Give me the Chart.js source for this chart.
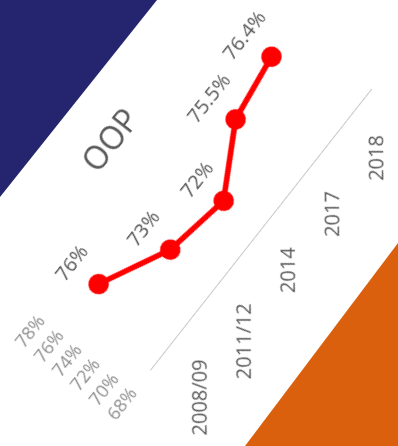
<!DOCTYPE html>
<html>
<head>
<meta charset="utf-8">
<script src="https://cdn.jsdelivr.net/npm/chart.js@4"></script>
<style>
    html, body { margin: 0; padding: 0; }
    body {
        width: 398px;
        height: 446px;
        position: relative;
        overflow: hidden;
        background: #ffffff;
        font-family: 'Open Sans', sans-serif;
    }
    .band-navy {
        position: absolute; left: 0; top: 0; width: 398px; height: 446px;
        background: #24256e;
        clip-path: polygon(0 0, 157px 0, 0 197px);
    }
    .band-orange {
        position: absolute; left: 0; top: 0; width: 398px; height: 446px;
        background: #db600d;
        clip-path: polygon(398px 243px, 398px 446px, 245px 446px);
    }
    #wrap { position: absolute; }
</style>
</head>
<body>
<div class="band-navy"></div>
<div class="band-orange"></div>
<div id="wrap"><canvas id="oopChart" width="442" height="303"></canvas></div>

<script>
const years = ['2008/09', '2011/12', '2014', '2017', '2018'];
const oopShare = [76, 73, 72, 75.5, 76.4];
const yTicks = [68, 70, 72, 74, 76, 78];
const chartTitle = 'OOP';

const TILT = 51.8;          // whole chart is tilted
const ORIGIN = [150, 370];  // where the axis starts on the page

// value labels above each point, plus the title over the plot
const valueLabels = {
    id: 'valueLabels',
    afterDatasetsDraw(chart) {
        const ctx = chart.ctx;
        const meta = chart.getDatasetMeta(0);
        const area = chart.chartArea;
        ctx.save();
        ctx.fillStyle = '#595959';
        ctx.textAlign = 'center';
        ctx.textBaseline = 'middle';
        ctx.font = '20px "Open Sans"';
        meta.data.forEach((pt, i) => {
            ctx.fillText(oopShare[i] + '%', pt.x, pt.y - 33);
        });
        ctx.font = '32px "Open Sans"';
        ctx.fillText(chartTitle, area.left + 156, area.top - 54);
        ctx.restore();
    }
};

const ctx = document.getElementById('oopChart').getContext('2d');
const chart = new Chart(ctx, {
    type: 'line',
    data: {
        labels: years,
        datasets: [{
            label: chartTitle,
            data: oopShare,
            borderColor: '#ff0000',
            backgroundColor: '#ff0000',
            borderWidth: 5.5,
            pointRadius: 7.5,
            pointHoverRadius: 7.5,
            tension: 0,
            fill: false
        }]
    },
    options: {
        responsive: false,
        animation: false,
        layout: { padding: { left: 10, right: 10, top: 80, bottom: 6 } },
        plugins: {
            legend: { display: false },
            tooltip: { enabled: false },
            title: { display: false }
        },
        scales: {
            x: {
                offset: true,
                grid: { display: false, drawTicks: false },
                border: { display: true, color: '#c8c8c8', width: 1 },
                ticks: {
                    color: '#595959',
                    font: { family: 'Open Sans', size: 20 },
                    minRotation: 90 - TILT,
                    maxRotation: 90 - TILT,
                    labelOffset: 4,
                    padding: 24
                },
                afterFit: (scale) => {
                    scale.height = 100;
                    scale.paddingLeft = 0;
                    scale.paddingRight = 0;
                }
            },
            y: {
                min: 68,
                max: 78,
                afterBuildTicks: (scale) => {
                    scale.ticks = yTicks.map(v => ({ value: v }));
                },
                afterFit: (scale) => { scale.width = 62; },
                grid: { display: false, drawTicks: false },
                border: { display: false },
                ticks: {
                    autoSkip: false,
                    color: '#8f8f8f',
                    font: { family: 'Open Sans', size: 18 },
                    padding: 26,
                    callback: (v) => v + '%'
                }
            }
        }
    },
    plugins: [valueLabels]
});

// pin the bottom-left corner of the plot area to the page origin, then tilt
const area = chart.chartArea;
const wrap = document.getElementById('wrap');
wrap.style.left = (ORIGIN[0] - area.left) + 'px';
wrap.style.top = (ORIGIN[1] - area.bottom) + 'px';
wrap.style.transformOrigin = area.left + 'px ' + area.bottom + 'px';
wrap.style.transform = 'rotate(-' + TILT + 'deg)';
</script>
</body>
</html>
